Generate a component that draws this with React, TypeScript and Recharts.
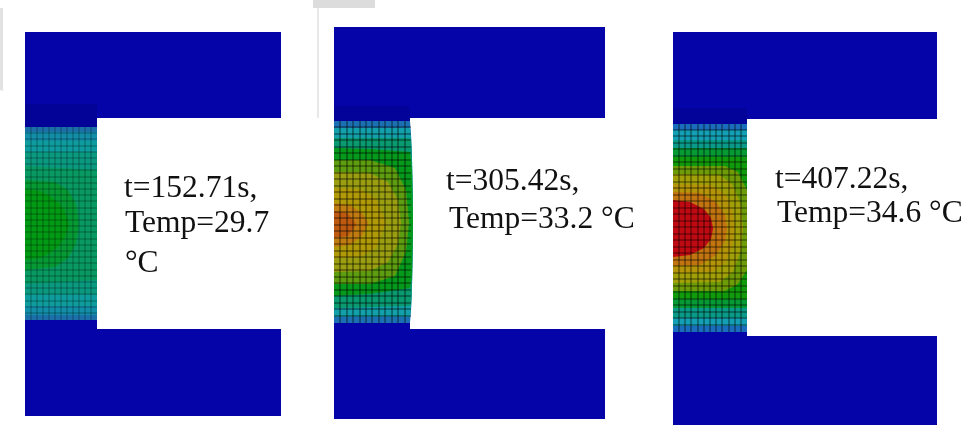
import React from "react";
import { ComposedChart, Area, XAxis, YAxis, ReferenceLine, ReferenceDot } from "recharts";

type Row = [number, number, number]; // x, upper edge, lower edge

// watermark remnants
const ghostTop: Row[] = [[313, 0, 8], [375, 0, 8]];
const ghostLeft: Row[] = [[0, 8, 90], [3, 8, 91]];
const ghostRule: Row[] = [[317, 8, 118], [319, 8, 118]];

// ---- panel 1: t = 152.71 s
const p1Arms: Row[][] = [[[25, 32, 118], [281, 32, 118]], [[25, 100, 130], [97, 100, 130]], [[25, 315, 340], [97, 315, 340]], [[25, 329, 416], [281, 329, 416]]];
const p1Bands: Row[][] = [
  [[25, 127, 320], [97, 127, 320]],
  [[25, 132, 315], [97, 132, 315]],
  [[25, 141, 306], [97, 141, 306]],
  [[25, 152, 295], [97, 152, 295]],
  [[25, 166, 284], [97, 170, 280]],
  [[25, 180, 270], [55, 182, 267], [68, 190, 258], [76, 204, 244], [79, 224, 225]],
  [[25, 189, 260], [40, 191, 258], [50, 196, 253], [60, 204, 245], [65, 212, 237], [69, 224, 225]],
];
const p1Fills = ["#1b70aa", "#128ea8", "#0e9c9c", "#0b9a80", "#089a62", "#059a34", "#019a14"];
const p1MeshX = [31, 37, 43, 49, 55, 61, 67, 73, 79, 85, 91];
const p1MeshY = [133, 139, 146, 152, 158, 164, 170, 177, 183, 189, 195, 201, 208, 214, 220, 226, 232, 239, 245, 251, 257, 263, 270, 276, 282, 288, 294, 301, 307, 313];

// ---- panel 2: t = 305.42 s
const p2Arms: Row[][] = [[[334, 27, 118], [605, 27, 118]], [[334, 100, 125], [410, 100, 125]], [[334, 318, 340], [410, 318, 340]], [[334, 329, 419], [605, 329, 419]]];
const p2Bands: Row[][] = [
  [[334, 121, 323], [410, 121, 323], [411, 135, 310], [412, 160, 285], [413, 222, 223]],
  [[334, 128, 317], [410, 128, 317], [411, 135, 310], [412, 160, 285], [413, 222, 223]],
  [[334, 138, 308], [410, 138, 306], [411, 140, 305], [412, 160, 285], [413, 222, 223]],
  [[334, 148, 296], [370, 149, 294], [410, 152, 288], [412, 170, 275], [413, 222, 223]],
  [[334, 160, 284], [370, 160, 284], [395, 168, 276], [406, 190, 252], [409, 222, 223]],
  [[334, 172, 272], [370, 173, 271], [388, 182, 262], [398, 200, 244], [401, 222, 223]],
  [[334, 188, 258], [360, 189, 257], [376, 198, 248], [386, 222, 223]],
  [[334, 203, 247], [350, 205, 245], [362, 213, 236], [368, 222, 224]],
  [[334, 211, 238], [348, 213, 236], [356, 224, 225]],
];
const p2Fills = ["#1b70b4", "#12a0aa", "#0a9a70", "#069a1c", "#5e9c10", "#9a9e10", "#b09a08", "#c07c10", "#bd5a10"];
const p2MeshX = [340, 347, 353, 360, 366, 372, 379, 385, 392, 398, 405];
const p2MeshY = [127, 134, 140, 147, 153, 160, 166, 173, 179, 186, 192, 199, 205, 212, 218, 225, 231, 238, 244, 251, 257, 264, 270, 277, 283, 290, 296, 303, 309, 316];

// ---- panel 3: t = 407.22 s
const p3Arms: Row[][] = [[[673, 32, 119], [937, 32, 119]], [[673, 100, 128], [747, 100, 128]], [[673, 328, 345], [747, 328, 345]], [[673, 336, 425], [937, 336, 425]]];
const p3Bands: Row[][] = [
  [[673, 124, 332], [747, 124, 332]],
  [[673, 130, 326], [747, 130, 326]],
  [[673, 140, 318], [747, 140, 318]],
  [[673, 148, 308], [747, 148, 308]],
  [[673, 157, 299], [747, 157, 299]],
  [[673, 166, 291], [725, 166, 291], [738, 172, 284], [747, 190, 270]],
  [[673, 174, 283], [720, 175, 282], [733, 185, 272], [741, 205, 250], [743, 228, 229]],
  [[673, 184, 273], [712, 185, 272], [726, 195, 262], [733, 212, 244], [735, 228, 229]],
  [[673, 192, 266], [700, 193, 265], [716, 202, 255], [725, 215, 241], [727, 228, 229]],
  [[673, 200, 257], [690, 202, 255], [704, 209, 248], [711, 218, 239], [713, 228, 229]],
];
const p3Fills = ["#1a6cbc", "#14a0b4", "#0a9a88", "#069a34", "#109a0c", "#6e9c08", "#a2a008", "#b49408", "#c27410", "#c00a12"];
const p3MeshX = [679, 685, 691, 698, 704, 710, 716, 722, 729, 735, 741];
const p3MeshY = [130, 136, 143, 149, 156, 162, 169, 175, 182, 188, 195, 201, 208, 214, 221, 227, 234, 240, 247, 253, 260, 266, 273, 279, 286, 292, 299, 305, 312, 318, 325];

const armFill = "#0404a8";
const shadeTop: Row[] = [[25, 104, 127], [97, 104, 127]];
const shadeTop2: Row[] = [[334, 106, 121], [410, 106, 121]];
const shadeTop3: Row[] = [[673, 108, 124], [747, 108, 124]];

// captions: x, baseline, text
const captions: [number, number, string][] = [
  [124, 197, "t=152.71s,"],
  [125, 232, "Temp=29.7"],
  [125, 272, "°C"],
  [446, 190, "t=305.42s,"],
  [449, 228, "Temp=33.2 °C"],
  [775, 188, "t=407.22s,"],
  [777, 222, "Temp=34.6 °C"],
];

const rows = (r: Row[]) => r.map(([x, a, b]) => ({ x, r: [a, b] }));

const region = (key: string, r: Row[], fill: string, opacity = 1) => (
  <Area
    key={key}
    data={rows(r)}
    dataKey="r"
    type="linear"
    fill={fill}
    fillOpacity={opacity}
    stroke="none"
    dot={false}
    activeDot={false}
    isAnimationActive={false}
  />
);

const mesh = (id: string, xs: number[], ys: number[], x0: number, x1: number, y0: number, y1: number, op: number) => [
  ...xs.map((x) => (
    <ReferenceLine key={`${id}v${x}`} segment={[{ x, y: y0 }, { x, y: y1 }]} stroke="#000" strokeOpacity={op} strokeWidth={1.6} />
  )),
  ...ys.map((y) => (
    <ReferenceLine key={`${id}h${y}`} segment={[{ x: x0, y }, { x: x1, y }]} stroke="#000" strokeOpacity={op} strokeWidth={1.6} />
  )),
];

const layer: React.CSSProperties = { position: "absolute", left: 0, top: 0, width: 968, height: 426 };
const noMargin = { top: 0, right: 0, bottom: 0, left: 0 };

export default function App() {
  return (
    <div style={{ ...layer, background: "#fff", overflow: "hidden" }}>
      <div style={{ ...layer, filter: "blur(0.5px)" }}>
        <ComposedChart width={968} height={426} margin={noMargin}>
          <XAxis type="number" dataKey="x" domain={[0, 968]} hide allowDataOverflow />
          <YAxis type="number" domain={[0, 426]} reversed hide allowDataOverflow width={0} />
          {region("g1", ghostTop, "#dcdcdc")}
          {region("g2", ghostLeft, "#e2e2e2")}
          {region("g3", ghostRule, "#e8e8e8")}
          {p1Arms.map((r, i) => region(`a1${i}`, r, armFill))}
          {p2Arms.map((r, i) => region(`a2${i}`, r, armFill))}
          {p3Arms.map((r, i) => region(`a3${i}`, r, armFill))}
          {region("s1", shadeTop, "#04047a", 0.35)}
          {region("s2", shadeTop2, "#04047a", 0.3)}
          {region("s3", shadeTop3, "#04047a", 0.3)}
          {p1Bands.map((r, i) => region(`b1${i}`, r, p1Fills[i]))}
          {p2Bands.map((r, i) => region(`b2${i}`, r, p2Fills[i]))}
          {p3Bands.map((r, i) => region(`b3${i}`, r, p3Fills[i]))}
          {mesh("m1", p1MeshX, p1MeshY, 25, 97, 127, 320, 0.22)}
          {mesh("m2", p2MeshX, p2MeshY, 334, 411, 121, 323, 0.42)}
          {mesh("m3", p3MeshX, p3MeshY, 673, 747, 124, 332, 0.4)}
        </ComposedChart>
      </div>
      <div style={{ ...layer, filter: "blur(0.3px)" }}>
        <ComposedChart width={968} height={426} margin={noMargin}>
          <XAxis type="number" dataKey="x" domain={[0, 968]} hide allowDataOverflow />
          <YAxis type="number" domain={[0, 426]} reversed hide allowDataOverflow width={0} />
          {captions.map(([x, y, t]) => (
            <ReferenceDot
              key={t}
              x={x}
              y={y}
              r={0}
              stroke="none"
              shape={(p: any) => (
                <text x={p.cx} y={p.cy} fontFamily="'Liberation Serif', serif" fontSize={31.5} fill="#111">
                  {t}
                </text>
              )}
            />
          ))}
        </ComposedChart>
      </div>
    </div>
  );
}
